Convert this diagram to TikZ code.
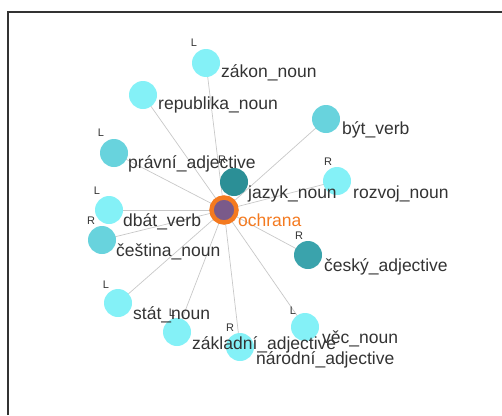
\documentclass[tikz,border=0pt]{standalone}
\usepackage{fontspec}
\setmainfont{Liberation Sans}
\usetikzlibrary{backgrounds}
\definecolor{lightc}{HTML}{84F1F7}
\definecolor{midc}{HTML}{68D3DD}
\definecolor{darkc}{HTML}{3AA3AC}
\definecolor{darkerc}{HTML}{2B8F96}
\definecolor{ringc}{HTML}{F47A20}
\definecolor{corec}{HTML}{7A5A8A}
\definecolor{txtc}{HTML}{333333}
\definecolor{edgec}{HTML}{C8C8C8}
\tikzset{
  vert/.style={circle, fill=#1, minimum size=28pt, inner sep=0pt},
  lbl/.style={anchor=base west, inner sep=0pt, text=txtc, font=\fontsize{17.5}{20}\selectfont},
  side/.style={inner sep=0pt, text=txtc, font=\fontsize{11}{12}\selectfont},
  link/.style={draw=edgec, line width=0.7pt},
}
\begin{document}
\begin{tikzpicture}[x=1pt,y=-1pt]
\useasboundingbox (0,0) rectangle (502,415);
\draw[line width=1.4pt, draw=black!80] (8,415) -- (8,12) -- (502,12);
% nodes
\node[vert=lightc] (zakon) at (206,63) {};
\node[vert=lightc] (republika) at (143,95) {};
\node[vert=midc] (byt) at (326,119) {};
\node[vert=midc] (pravni) at (114,153) {};
\node[vert=darkerc] (jazyk) at (234,182) {};
\node[vert=lightc] (rozvoj) at (337,181) {};
\node[vert=lightc] (dbat) at (109,210) {};
\node[vert=midc] (cestina) at (102,240) {};
\node[vert=darkc] (cesky) at (308,255) {};
\node[vert=lightc] (stat) at (118,303) {};
\node[vert=lightc] (vec) at (305,327) {};
\node[vert=lightc] (zakladni) at (177,332) {};
\node[vert=lightc] (narodni) at (240,347) {};
\node[circle, fill=corec, draw=ringc, line width=4.5pt, minimum size=25pt, inner sep=0pt] (ochrana) at (224,210) {};
% edges
\begin{scope}[on background layer]
\foreach \n in {zakon,republika,byt,pravni,jazyk,rozvoj,dbat,cestina,cesky,stat,vec,zakladni,narodni}
  \draw[link] (ochrana.center) -- (\n.center);
\end{scope}
% side marks
\node[side] (zakonL) at (194,43) {L};
\node[side] (pravniL) at (101,133) {L};
\node[side] (dbatL) at (97,191) {L};
\node[side] (cestinaR) at (91,221) {R};
\node[side] (cesky R) at (299,236) {R};
\node[side] (rozvojR) at (328,162) {R};
\node[side] (statL) at (106,285) {L};
\node[side] (vecL) at (293,311) {L};
\node[side] (narodniR) at (230,328) {R};
% labels
\node[lbl] (zakonT) at (221,77) {zákon\_noun};
\node[lbl] (republikaT) at (158,109) {republika\_noun};
\node[lbl] (bytT) at (342,134) {být\_verb};
\node[lbl] (pravniT) at (128,168) {právní\_adjective};
\node[side] (jazykR) at (222,160) {R};
\node[lbl] (jazykT) at (248,198) {jazyk\_noun};
\node[lbl] (rozvojT) at (353,198) {rozvoj\_noun};
\node[lbl, text=ringc] (ochranaT) at (238,226) {ochrana};
\node[lbl] (dbatT) at (123,226) {dbát\_verb};
\node[lbl] (cestinaT) at (116,256) {čeština\_noun};
\node[lbl] (ceskyT) at (324,271) {český\_adjective};
\node[lbl] (statT) at (133,319) {stát\_noun};
\node[side] (zakladniL) at (172,313) {L};
\node[lbl] (zakladniT) at (192,349) {základní\_adjective};
\node[lbl] (vecT) at (322,343) {věc\_noun};
\node[lbl] (narodniT) at (256,364) {národní\_adjective};
\end{tikzpicture}
\end{document}
